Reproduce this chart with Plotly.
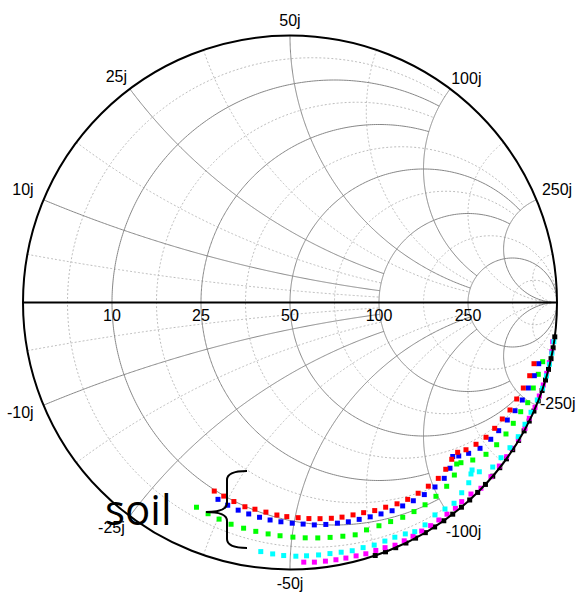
import numpy as np
import plotly.graph_objects as go

Z0 = 50.0  # reference impedance (ohm)
W, H = 577, 593

# ---- Smith chart grid definition (normalised values and clipping limits) ----
major_vals = [0.2, 0.5, 1.0, 2.0, 5.0]
major_clip = [2.0, 2.0, 5.0, 5.0, np.inf]
minor_vals = [1 / 11, 1 / 3, 5 / 7, 7 / 5, 3.0, 11.0]
minor_clip = [2.0, 2.0, 5.0, 5.0, np.inf, np.inf]

real_tick_ohm = [10, 25, 50, 100, 250]
imag_tick_ohm = [10, 25, 50, 100, 250, -10, -25, -50, -100, -250]

# ---- measured impedances (ohm) ----
red_R = [9.8, 9.9, 9.9, 9.9, 10.2, 10.4, 10.5, 10.7, 11.0, 11.2, 11.5, 11.8, 12.2, 12.8, 13.3, 13.6, 14.2, 14.6, 15.3, 16.6,
         18.3, 20.4, 23.9, 28.8, 32.1, 31.1, 31.1, 31.7, 34.4, 38.2, 41.2, 48.4, 56.5, 69.4, 93.7]
red_X = [-32.9, -34.8, -36.9, -39.2, -41.2, -43.5, -45.9, -48.1, -50.7, -53.3, -56.1, -59.1, -62.1, -65.4, -68.8, -72.6,
         -76.7, -81.3, -86.1, -91.5, -97.5, -104.3, -110.8, -117.4, -123.8, -131.2, -142.0, -155.1, -170.4, -187.8,
         -208.5, -235.6, -270.3, -320.2, -382.3]

blue_R = [8.9, 8.8, 8.8, 8.9, 9.0, 9.1, 9.3, 9.5, 9.7, 9.8, 10.1, 10.5, 10.8, 11.3, 11.7, 12.1, 12.4, 13.2, 14.0, 15.0,
          16.6, 19.0, 23.4, 30.5, 29.0, 27.2, 25.6, 26.6, 28.5, 31.5, 33.2, 36.5, 44.2, 53.2, 69.7]
blue_X = [-34.2, -36.2, -38.3, -40.4, -42.6, -44.8, -47.1, -49.6, -52.1, -54.8, -57.7, -60.8, -63.9, -67.2, -70.8, -74.6,
          -78.8, -83.3, -88.3, -94.1, -100.7, -107.6, -113.7, -118.9, -123.4, -131.8, -143.2, -158.1, -172.6, -192.7,
          -214.5, -243.1, -280.7, -332.8, -400.5]

green_R = [6.0, 6.0, 6.0, 6.0, 6.1, 6.2, 6.3, 6.4, 6.5, 6.6, 6.7, 6.8, 6.9, 6.9, 7.8, 8.3, 8.7, 8.9, 9.5, 10.4, 11.9,
           14.1, 18.0, 24.1, 23.5, 20.5, 17.5, 17.5, 18.5, 20.7, 23.2, 21.8, 30.4, 40.7, 52.9]
green_X = [-31.8, -33.9, -35.9, -38.1, -40.4, -42.7, -45.1, -47.5, -50.2, -52.9, -55.8, -58.8, -62.1, -65.5, -69.0, -73.1,
           -77.3, -82.0, -87.0, -92.6, -99.1, -106.8, -114.3, -119.3, -122.6, -131.8, -144.3, -159.1, -176.5, -195.4,
           -220.2, -245.5, -290.0, -348.2, -426.1]

cyan_R = [2.8, 2.7, 2.6, 2.6, 2.7, 2.8, 2.9, 2.9, 2.8, 3.0, 2.9, 3.1, 3.2, 2.9, 2.2, 2.7, 4.3, 4.2, 4.0, 6.2, 8.5, 12.4,
          14.3, 9.8, 5.0, 4.9, 3.9, 3.0, 3.9, 4.5, 3.2, 0.9, 1.3, 1.8, 2.7, 4.6]
cyan_X = [-44.4, -46.6, -48.7, -51.1, -53.3, -55.9, -58.5, -61.2, -64.0, -67.0, -70.2, -73.6, -77.0, -80.7, -84.1, -88.8,
          -94.5, -99.9, -105.3, -112.2, -119.5, -124.4, -126.8, -130.3, -140.8, -152.2, -166.4, -183.7, -205.1, -230.3,
          -263.1, -302.8, -356.3, -426.1, -520.7, -677.1]

magenta_R = [1.4, 1.3, 1.3, 1.3, 1.3, 1.3, 1.2, 1.3, 1.2, 0.8, 0.9, 1.0, 1.2, 1.3, 1.5, 1.6, 1.5, 2.2, 2.1, 0.4, 0.8, 1.2,
             1.1, 1.9, 1.3, 0.7, 2.2, 1.2, 2.2, 2.3, 3.7, 5.8, 7.8, 23.8]
magenta_X = [-52.7, -54.9, -57.3, -59.7, -62.1, -64.7, -67.3, -70.2, -73.0, -76.1, -79.4, -82.8, -86.5, -90.6, -94.8,
             -99.3, -104.3, -109.1, -116.0, -123.1, -134.0, -145.2, -156.5, -167.0, -181.1, -199.3, -218.1, -244.0,
             -275.7, -315.0, -369.3, -436.4, -536.5, -673.0]

black_R = [0.0] * 28
black_X = [-69.6, -72.7, -76.0, -79.6, -83.3, -87.4, -91.7, -96.4, -101.5, -107.1, -113.1, -119.7, -127.1, -135.2,
           -144.3, -154.6, -166.3, -179.7, -195.2, -213.5, -235.3, -261.8, -294.8, -336.9, -392.7, -470.2, -585.0,
           -773.2]

series = [
    ("black", black_R, black_X, "#000000"),
    ("magenta", magenta_R, magenta_X, "#ff00ff"),
    ("cyan", cyan_R, cyan_X, "#00ffff"),
    ("green", green_R, green_X, "#00ff00"),
    ("blue", blue_R, blue_X, "#0000ff"),
    ("red", red_R, red_X, "#ff0000"),
]


def rcircle(v, c, n=400):
    tmax = np.arctan(c) if np.isfinite(c) else np.pi / 2 - 1e-4
    t = np.linspace(-tmax, tmax, n)
    return [v] * n, list(np.tan(t))


def xarc(v, c, n=300):
    tmax = np.arctan(c) if np.isfinite(c) else np.pi / 2 - 1e-4
    t = np.linspace(0, tmax, n)
    return list(np.tan(t)), [v] * n


def grid_trace(vals, clips, color, dash):
    re, im = [], []
    for v, c in zip(vals, clips):
        a, b = rcircle(v, c)
        re += a + [None]
        im += b + [None]
        for s in (1, -1):
            a, b = xarc(s * v, c)
            re += a + [None]
            im += b + [None]
    return go.Scattersmith(real=re, imag=im, mode="lines", hoverinfo="skip", connectgaps=False,
                           line=dict(color=color, width=1, dash=dash), showlegend=False)


fig = go.Figure()
fig.add_trace(grid_trace(minor_vals, minor_clip, "#bcbcbc", "2px,2px"))
fig.add_trace(grid_trace(major_vals, major_clip, "#878787", "solid"))

for name, R, X, col in series:
    fig.add_trace(go.Scattersmith(real=[r / Z0 for r in R], imag=[x / Z0 for x in X], mode="markers", name=name,
                                  marker=dict(symbol="square", size=5, color=col, line=dict(width=0)),
                                  showlegend=False, cliponaxis=False))

font = dict(family="Liberation Sans, Arial, sans-serif", size=16, color="black")
NB = "\u00a0"

# real-axis labels (offset below the axis by an invisible marker)
fig.add_trace(go.Scattersmith(real=[v / Z0 for v in real_tick_ohm], imag=[0] * len(real_tick_ohm),
                              mode="markers+text", text=[str(v) for v in real_tick_ohm],
                              marker=dict(size=8, opacity=0), textposition="bottom center", textfont=font,
                              cliponaxis=False, hoverinfo="skip", showlegend=False))

# rim labels: (text position, invisible offset-marker size, left pad, right pad)
rim_style = {
    10: ("top left", 0, 0, 2), 25: ("top left", 2.9, 0, 0), 50: ("top center", 7.2, 0, 0),
    100: ("top right", 0, 0, 0), 250: ("top right", 0, 1, 0),
    -10: ("bottom left", 0, 0, 2), -25: ("bottom left", 6.4, 0, 0), -50: ("bottom center", 9.6, 0, 0),
    -100: ("bottom center", 13.4, 6, 0), -250: ("middle right", 4, 0, 0),
}
for v in imag_tick_ohm:
    pos, msz, lp, rp = rim_style[v]
    fig.add_trace(go.Scattersmith(real=[0], imag=[v / Z0], mode="markers+text",
                                  text=[NB * lp + "%dj" % v + NB * rp],
                                  marker=dict(size=max(msz, 0.01), opacity=0), textposition=pos, textfont=font,
                                  cliponaxis=False, hoverinfo="skip", showlegend=False))

CX, CY, RAD = 290.0, 302.5, 267.0
fig.update_layout(
    width=W, height=H, margin=dict(l=0, r=0, t=0, b=0),
    paper_bgcolor="white", showlegend=False,
    smith=dict(domain=dict(x=[(CX - RAD) / W, (CX + RAD) / W], y=[1 - (CY + RAD) / H, 1 - (CY - RAD) / H]),
               bgcolor="white",
               realaxis=dict(showgrid=False, showticklabels=False, ticks="", showline=True, linecolor="black",
                             linewidth=2),
               imaginaryaxis=dict(showgrid=False, showticklabels=False, ticks="", showline=True, linecolor="black",
                                  linewidth=2)),
)


def P(x, y):
    return "%.5f,%.5f" % (x / W, 1 - y / H)


brace = ("M " + P(247, 471) + " Q " + P(227, 471) + " " + P(227, 480) + " L " + P(227, 503) +
         " Q " + P(227, 512) + " " + P(206, 512) + " Q " + P(227, 512) + " " + P(227, 521) +
         " L " + P(227, 539) + " Q " + P(227, 548) + " " + P(247, 548))
fig.add_shape(type="path", path=brace, xref="paper", yref="paper", line=dict(color="black", width=2))
fig.add_annotation(text="soil", x=103 / W, y=1 - 508.7 / H, xref="paper", yref="paper", xanchor="left",
                   yanchor="middle", showarrow=False, font=dict(family="Open Sans", size=42, color="black"))

fig.write_html("out.html")
